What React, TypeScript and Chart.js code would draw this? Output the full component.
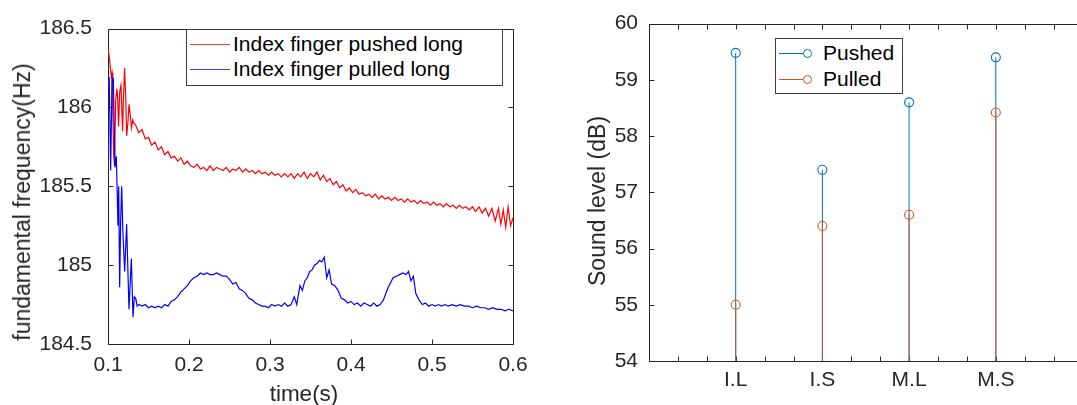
import React, { useEffect, useRef } from 'react';
import { Chart, registerables } from 'chart.js';

Chart.register(...registerables);

// ---- left panel: fundamental frequency over time [time (s), Hz] ----
const pushedLong: [number, number][] = [
  [0.1, 186.38], [0.102, 186.3], [0.104, 186.2], [0.105, 186.22], [0.106, 185.95], [0.107, 185.7],
  [0.108, 185.63], [0.1095, 186.05], [0.111, 186.12], [0.112, 186.05], [0.113, 185.88], [0.1145, 186.1],
  [0.116, 186.14], [0.117, 186.0], [0.118, 185.85], [0.119, 186.05], [0.1205, 186.25], [0.122, 186.05],
  [0.123, 185.82], [0.1245, 185.9], [0.126, 186.02], [0.1275, 185.95], [0.129, 185.87], [0.1305, 185.92],
  [0.132, 185.9], [0.134, 185.89], [0.138, 185.84], [0.142, 185.86], [0.146, 185.8], [0.15, 185.81],
  [0.154, 185.76], [0.158, 185.78], [0.162, 185.73], [0.166, 185.75], [0.17, 185.7], [0.174, 185.72],
  [0.178, 185.68], [0.182, 185.69], [0.186, 185.66], [0.19, 185.68], [0.194, 185.64], [0.198, 185.66],
  [0.202, 185.63], [0.206, 185.62], [0.21, 185.64], [0.214, 185.61], [0.218, 185.62], [0.222, 185.6],
  [0.226, 185.63], [0.23, 185.6], [0.234, 185.62], [0.238, 185.61], [0.242, 185.6], [0.246, 185.62],
  [0.25, 185.59], [0.254, 185.61], [0.258, 185.6], [0.262, 185.62], [0.266, 185.59], [0.27, 185.61],
  [0.274, 185.59], [0.278, 185.6], [0.282, 185.58], [0.286, 185.6], [0.29, 185.58], [0.294, 185.59],
  [0.298, 185.57], [0.302, 185.59], [0.306, 185.57], [0.31, 185.58], [0.314, 185.56], [0.318, 185.58],
  [0.322, 185.56], [0.326, 185.58], [0.33, 185.55], [0.334, 185.58], [0.338, 185.56], [0.342, 185.59],
  [0.346, 185.55], [0.35, 185.58], [0.354, 185.56], [0.358, 185.59], [0.362, 185.54], [0.366, 185.57],
  [0.37, 185.53], [0.374, 185.55], [0.378, 185.51], [0.382, 185.53], [0.386, 185.49], [0.39, 185.51],
  [0.394, 185.47], [0.398, 185.49], [0.402, 185.46], [0.406, 185.48], [0.41, 185.45], [0.414, 185.46],
  [0.418, 185.44], [0.422, 185.45], [0.426, 185.43], [0.43, 185.45], [0.434, 185.42], [0.438, 185.44],
  [0.442, 185.42], [0.446, 185.43], [0.45, 185.41], [0.454, 185.43], [0.458, 185.41], [0.462, 185.42],
  [0.466, 185.4], [0.47, 185.42], [0.474, 185.4], [0.478, 185.41], [0.482, 185.39], [0.486, 185.41],
  [0.49, 185.39], [0.494, 185.4], [0.498, 185.38], [0.502, 185.4], [0.506, 185.38], [0.51, 185.39],
  [0.514, 185.37], [0.518, 185.39], [0.522, 185.37], [0.526, 185.38], [0.53, 185.36], [0.534, 185.38],
  [0.538, 185.36], [0.542, 185.37], [0.546, 185.35], [0.55, 185.37], [0.554, 185.34], [0.558, 185.37],
  [0.562, 185.33], [0.566, 185.36], [0.57, 185.31], [0.574, 185.36], [0.578, 185.28], [0.582, 185.36],
  [0.585, 185.26], [0.588, 185.35], [0.591, 185.24], [0.594, 185.37], [0.597, 185.25], [0.6, 185.3],
];

const pulledLong: [number, number][] = [
  [0.1, 186.19], [0.1015, 186.19], [0.1033, 185.6], [0.105, 186.19], [0.1066, 186.18], [0.1086, 185.62],
  [0.1103, 185.69], [0.1123, 185.25], [0.1132, 185.5], [0.1144, 184.86], [0.1156, 185.27], [0.1169, 185.5],
  [0.1185, 185.19], [0.1206, 184.96], [0.123, 185.26], [0.1259, 184.72], [0.1275, 184.9], [0.1288, 185.04],
  [0.1309, 184.67], [0.1325, 184.8], [0.1342, 184.79], [0.136, 184.74], [0.1383, 184.75], [0.142, 184.74],
  [0.146, 184.75], [0.15, 184.73], [0.154, 184.74], [0.158, 184.73], [0.162, 184.74], [0.166, 184.73],
  [0.17, 184.75], [0.174, 184.74], [0.178, 184.77], [0.182, 184.78], [0.186, 184.8], [0.19, 184.83],
  [0.194, 184.85], [0.198, 184.87], [0.202, 184.9], [0.206, 184.92], [0.21, 184.93], [0.214, 184.95],
  [0.218, 184.94], [0.222, 184.95], [0.226, 184.94], [0.23, 184.94], [0.234, 184.95], [0.238, 184.94],
  [0.242, 184.93], [0.246, 184.93], [0.25, 184.91], [0.254, 184.88], [0.258, 184.89], [0.262, 184.85],
  [0.266, 184.84], [0.27, 184.82], [0.274, 184.79], [0.278, 184.78], [0.282, 184.76], [0.286, 184.75],
  [0.29, 184.74], [0.294, 184.74], [0.298, 184.73], [0.302, 184.75], [0.306, 184.74], [0.31, 184.75],
  [0.314, 184.74], [0.318, 184.76], [0.322, 184.74], [0.326, 184.75], [0.33, 184.8], [0.333, 184.75],
  [0.337, 184.87], [0.34, 184.84], [0.343, 184.9], [0.346, 184.92], [0.349, 184.96], [0.352, 184.97],
  [0.355, 185.0], [0.358, 185.01], [0.361, 185.03], [0.364, 185.02], [0.367, 185.05], [0.37, 184.92],
  [0.373, 184.97], [0.376, 184.88], [0.38, 184.87], [0.384, 184.84], [0.388, 184.79], [0.392, 184.78],
  [0.396, 184.76], [0.4, 184.77], [0.404, 184.75], [0.408, 184.76], [0.412, 184.74], [0.416, 184.76],
  [0.42, 184.75], [0.424, 184.74], [0.428, 184.76], [0.432, 184.74], [0.436, 184.75], [0.44, 184.78],
  [0.443, 184.82], [0.446, 184.86], [0.449, 184.89], [0.452, 184.92], [0.456, 184.93], [0.46, 184.94],
  [0.464, 184.95], [0.468, 184.94], [0.471, 184.96], [0.474, 184.9], [0.477, 184.93], [0.48, 184.82],
  [0.484, 184.78], [0.488, 184.75], [0.492, 184.76], [0.496, 184.74], [0.5, 184.75], [0.504, 184.74],
  [0.508, 184.75], [0.512, 184.74], [0.516, 184.75], [0.52, 184.74], [0.525, 184.75], [0.53, 184.74],
  [0.535, 184.75], [0.54, 184.74], [0.545, 184.74], [0.55, 184.73], [0.555, 184.74], [0.56, 184.73],
  [0.565, 184.73], [0.57, 184.72], [0.575, 184.73], [0.58, 184.72], [0.585, 184.72], [0.59, 184.71],
  [0.595, 184.72], [0.6, 184.71],
];

const timeTicks = [0.1, 0.2, 0.3, 0.4, 0.5, 0.6];
const freqTicks = [184.5, 185, 185.5, 186, 186.5];

// ---- right panel: sound level per finger / length ----
const fingerCases = ['I.L', 'I.S', 'M.L', 'M.S'];
const pushedLevel = [59.48, 57.4, 58.6, 59.4];
const pulledLevel = [55.0, 56.4, 56.6, 58.42];
const levelTicks = [54, 55, 56, 57, 58, 59, 60];
const stemBase = 54;

const INK = '#262626';
const FONT = '"Liberation Sans", Arial, Helvetica, sans-serif';
const RED = '#ff0000';
const BLUE = '#0000ff';
const PUSH = '#0072bd';
const PULL = '#d95319';

type Pt = { x: number; y: number | null };
const toPoints = (pairs: [number, number][]): Pt[] => pairs.map(([x, y]) => ({ x, y }));
const stemPoints = (levels: number[]): Pt[] =>
  levels.flatMap((v, i) => [{ x: i + 1, y: stemBase }, { x: i + 1, y: v }, { x: i + 1, y: null }]);

// matlab style box with inward ticks on all four sides
const boxAndTicks = {
  id: 'boxAndTicks',
  beforeDatasetsDraw(chart: any) {
    const { ctx, chartArea: a } = chart;
    const xs = chart.scales.x;
    const ys = chart.scales.y;
    const L = 5;
    const left = Math.round(a.left) + 0.5;
    const right = Math.round(a.right) + 0.5;
    const top = Math.round(a.top) + 0.5;
    const bottom = Math.round(a.bottom) + 0.5;
    ctx.save();
    ctx.strokeStyle = INK;
    ctx.lineWidth = 1;
    ctx.beginPath();
    ctx.rect(left, top, right - left, bottom - top);
    xs.ticks.forEach((t: any) => {
      const p = Math.round(xs.getPixelForValue(t.value)) + 0.5;
      ctx.moveTo(p, bottom); ctx.lineTo(p, bottom - L);
      ctx.moveTo(p, top); ctx.lineTo(p, top + L);
    });
    ys.ticks.forEach((t: any) => {
      const p = Math.round(ys.getPixelForValue(t.value)) + 0.5;
      ctx.moveTo(left, p); ctx.lineTo(left + L, p);
      ctx.moveTo(right, p); ctx.lineTo(right - L, p);
    });
    ctx.stroke();
    ctx.restore();
  },
};

const tickFont = { family: FONT, size: 21 };
const bareAxis = { grid: { display: false, drawTicks: false }, border: { display: false } };

function FrequencyPanel() {
  const ref = useRef<HTMLCanvasElement | null>(null);

  useEffect(() => {
    if (!ref.current) return;
    const chart = new Chart(ref.current, {
      type: 'line',
      data: {
        datasets: [
          { label: 'Index finger pushed long', data: toPoints(pushedLong) as any, borderColor: RED, borderWidth: 1.2, pointRadius: 0, tension: 0, order: 1 },
          { label: 'Index finger pulled long', data: toPoints(pulledLong) as any, borderColor: BLUE, borderWidth: 1.2, pointRadius: 0, tension: 0, order: 0 },
        ],
      },
      options: {
        animation: false,
        responsive: true,
        maintainAspectRatio: false,
        layout: { padding: { left: 0, right: 32, top: 19, bottom: 0 } },
        plugins: { legend: { display: false }, tooltip: { enabled: false } },
        scales: {
          x: {
            type: 'linear', min: 0.1, max: 0.6, ...bareAxis,
            afterBuildTicks: (s: any) => { s.ticks = timeTicks.map(v => ({ value: v })); },
            afterFit: (s: any) => { s.height = 61; },
            ticks: { padding: 9, color: INK, font: tickFont, maxRotation: 0, autoSkip: false, callback: (v: any) => Number(v).toFixed(1) },
          },
          y: {
            type: 'linear', min: 184.5, max: 186.5, ...bareAxis,
            afterBuildTicks: (s: any) => { s.ticks = freqTicks.map(v => ({ value: v })); },
            afterFit: (s: any) => { s.width = 108; },
            ticks: { padding: 16, color: INK, font: tickFont, callback: (v: any) => String(Math.round(Number(v) * 10) / 10) },
          },
        },
      } as any,
      plugins: [boxAndTicks],
    });
    return () => chart.destroy();
  }, []);

  const legendRows = [
    { label: 'Index finger pushed long', color: RED, y: 44 },
    { label: 'Index finger pulled long', color: BLUE, y: 69 },
  ];

  return (
    <>
      <div style={{ position: 'absolute', left: 0, top: 0, width: 545, height: 405 }}>
        <canvas ref={ref} style={{ display: 'block' }}></canvas>
      </div>
      <div style={{ position: 'absolute', left: 186, top: 29, width: 317, height: 57, boxSizing: 'border-box', border: '1px solid #3c3c3c', background: '#fff' }} />
      {legendRows.map(r => (
        <React.Fragment key={r.label}>
          <div style={{ position: 'absolute', left: 190, top: r.y, width: 40, height: 1.2, background: r.color, opacity: 0.75 }} />
          <div style={{ position: 'absolute', left: 233, top: r.y - 12, lineHeight: '24px', fontSize: 21, fontFamily: FONT, color: '#000', whiteSpace: 'nowrap' }}>{r.label}</div>
        </React.Fragment>
      ))}
      <div style={{ position: 'absolute', left: 304, top: 381, transform: 'translateX(-50%)', lineHeight: '26px', fontSize: 22.5, fontFamily: FONT, color: INK, whiteSpace: 'nowrap' }}>time(s)</div>
      <div style={{ position: 'absolute', left: 22, top: 202, transform: 'translate(-50%, -50%) rotate(-90deg)', lineHeight: '26px', fontSize: 23, fontFamily: FONT, color: INK, whiteSpace: 'nowrap' }}>fundamental frequency(Hz)</div>
    </>
  );
}

function LevelPanel() {
  const ref = useRef<HTMLCanvasElement | null>(null);

  useEffect(() => {
    if (!ref.current) return;
    const markerRadius = (c: any) => {
      const r = c.raw as Pt;
      return r && r.y !== null && r.y !== stemBase ? 4.5 : 0;
    };
    const chart = new Chart(ref.current, {
      type: 'line',
      data: {
        datasets: [
          { label: 'Pushed', data: stemPoints(pushedLevel) as any, borderColor: PUSH, borderWidth: 1, spanGaps: false, pointRadius: markerRadius, pointBorderColor: PUSH, pointBackgroundColor: 'rgba(255,255,255,0)', pointBorderWidth: 1.1, order: 1 },
          // slightly see-through so the blue stem underneath tints it, as in the original
          { label: 'Pulled', data: stemPoints(pulledLevel) as any, borderColor: 'rgba(200,84,40,0.85)', borderWidth: 1.1, spanGaps: false, pointRadius: markerRadius, pointBorderColor: PULL, pointBackgroundColor: 'rgba(255,255,255,0)', pointBorderWidth: 1.1, order: 0 },
        ],
      },
      options: {
        animation: false,
        responsive: true,
        maintainAspectRatio: false,
        layout: { padding: { left: 0, right: 7.5, top: 19, bottom: 0 } },
        plugins: { legend: { display: false }, tooltip: { enabled: false } },
        scales: {
          x: {
            type: 'linear', min: 0, max: 5, ...bareAxis,
            afterBuildTicks: (s: any) => {
              const ticks = [];
              for (let k = 0; k <= 15; k++) ticks.push({ value: k / 3 });
              s.ticks = ticks;
            },
            afterFit: (s: any) => { s.height = 44; },
            ticks: {
              padding: 6.5, color: INK, font: tickFont, maxRotation: 0, autoSkip: false,
              callback: (v: any) => {
                const n = Math.round(Number(v));
                return Math.abs(Number(v) - n) < 1e-6 && n >= 1 && n <= fingerCases.length ? fingerCases[n - 1] : '';
              },
            },
          },
          y: {
            type: 'linear', min: 54, max: 60, ...bareAxis,
            afterBuildTicks: (s: any) => { s.ticks = levelTicks.map(v => ({ value: v })); },
            afterFit: (s: any) => { s.width = 89; },
            ticks: { padding: 11, color: INK, font: tickFont, callback: (v: any) => String(v) },
          },
        },
      } as any,
      plugins: [boxAndTicks],
    });
    return () => chart.destroy();
  }, []);

  const legendRows = [
    { label: 'Pushed', color: PUSH, y: 52.5 },
    { label: 'Pulled', color: PULL, y: 78.5 },
  ];

  return (
    <>
      <div style={{ position: 'absolute', left: 560, top: 0, width: 517, height: 405, overflow: 'hidden' }}>
        <div style={{ position: 'relative', width: 530, height: 405 }}>
          <canvas ref={ref} style={{ display: 'block' }}></canvas>
        </div>
      </div>
      <div style={{ position: 'absolute', left: 775, top: 38, width: 128, height: 56, boxSizing: 'border-box', border: '1px solid #3c3c3c', background: '#fff' }} />
      {legendRows.map(r => (
        <React.Fragment key={r.label}>
          <div style={{ position: 'absolute', left: 779, top: r.y, width: 24, height: 1, background: r.color }} />
          <div style={{ position: 'absolute', left: 802.5, top: r.y - 4, width: 9, height: 9, boxSizing: 'border-box', border: `1.1px solid ${r.color}`, borderRadius: '50%' }} />
          <div style={{ position: 'absolute', left: 823, top: r.y - 12, lineHeight: '24px', fontSize: 21, fontFamily: FONT, color: '#000', whiteSpace: 'nowrap' }}>{r.label}</div>
        </React.Fragment>
      ))}
      <div style={{ position: 'absolute', left: 597, top: 201, transform: 'translate(-50%, -50%) rotate(-90deg)', lineHeight: '26px', fontSize: 23, fontFamily: FONT, color: INK, whiteSpace: 'nowrap' }}>Sound level (dB)</div>
    </>
  );
}

export default function App() {
  return (
    <div style={{ position: 'absolute', left: 0, top: 0, width: 1077, height: 405, background: '#fff', overflow: 'hidden' }}>
      <FrequencyPanel />
      <LevelPanel />
    </div>
  );
}
